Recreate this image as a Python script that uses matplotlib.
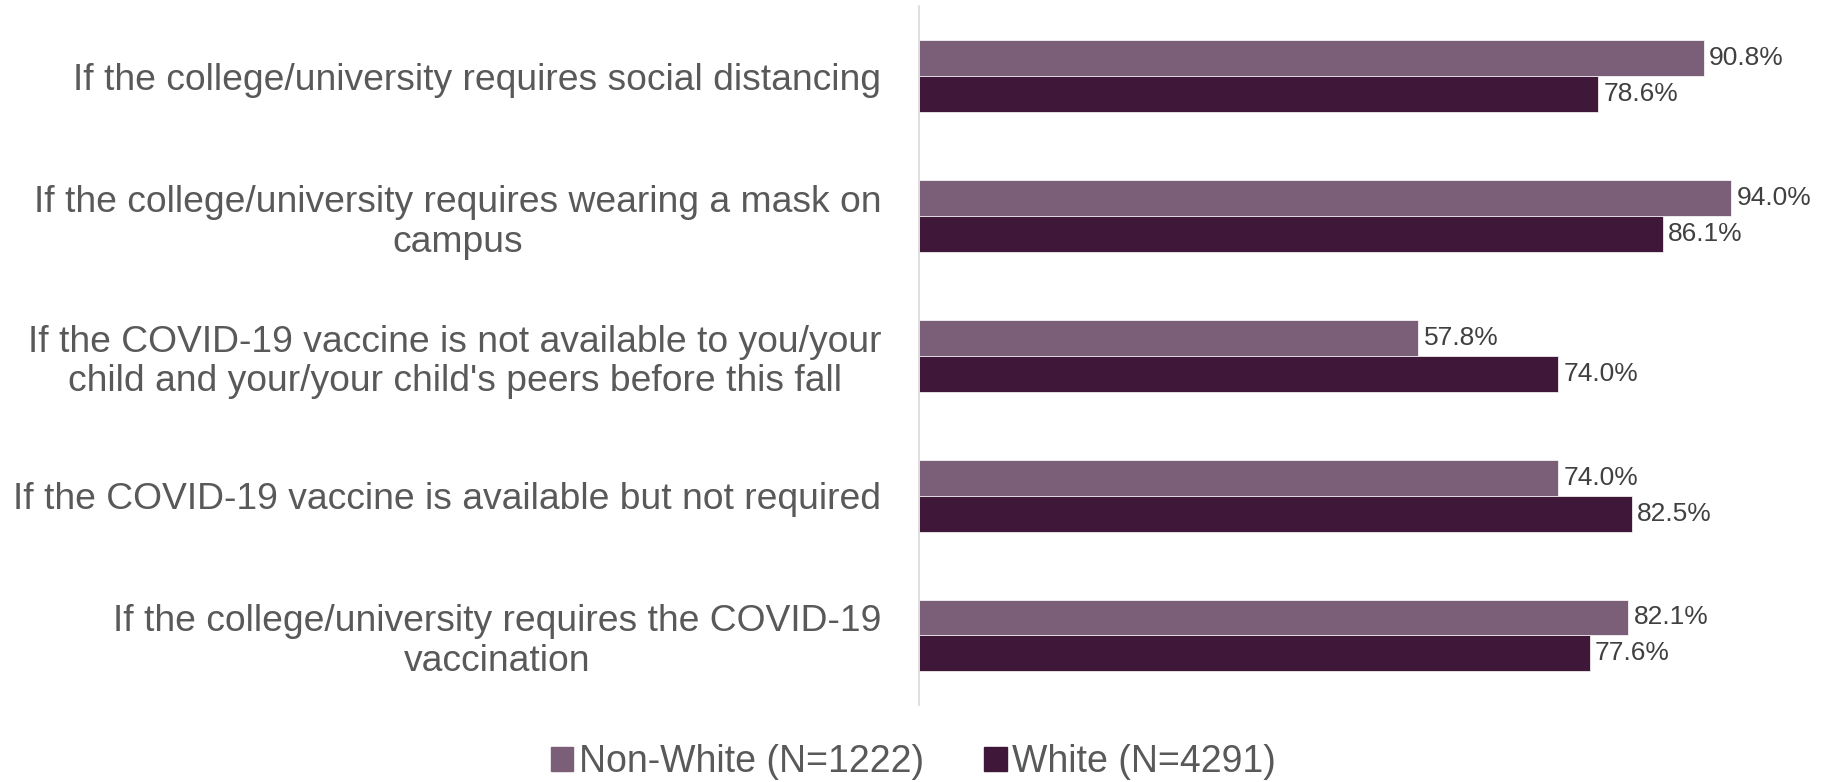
import matplotlib
matplotlib.use("Agg")
import matplotlib.pyplot as plt
from matplotlib.patches import Patch

CATEGORIES = [
    "If the college/university requires social distancing",
    "If the college/university requires wearing a mask on\ncampus",
    "If the COVID-19 vaccine is not available to you/your\nchild and your/your child's peers before this fall",
    "If the COVID-19 vaccine is available but not required",
    "If the college/university requires the COVID-19\nvaccination",
]
NON_WHITE = [90.8, 94.0, 57.8, 74.0, 82.1]
WHITE = [78.6, 86.1, 74.0, 82.5, 77.6]
SERIES_LABELS = ["Non-White (N=1222)", "White (N=4291)"]

COLORS = ["#7B5F78", "#3F1839"]
TEXT = "#595959"

plt.rcParams["font.family"] = ["Liberation Sans", "DejaVu Sans"]

fig = plt.figure(figsize=(18.27, 7.82), dpi=100)
ax = fig.add_axes([0.503, 0.098, 0.473, 0.894])

h = 0.257
ys = list(range(len(CATEGORIES)))
for vals, color, off in [(NON_WHITE, COLORS[0], -h / 2), (WHITE, COLORS[1], h / 2)]:
    pos = [y + off for y in ys]
    ax.barh(pos, vals, height=h, color=color, edgecolor="white", linewidth=0.5)
    for p, v in zip(pos, vals):
        ax.text(v + 0.6, p, f"{v:.1f}%", va="center", ha="left", fontsize=19, color="#404040")

ax.set_xlim(0, 100)
ax.set_ylim(len(CATEGORIES) - 0.5, -0.5)
ax.set_yticks(ys)
ax.set_yticklabels(CATEGORIES, fontsize=26.8, color=TEXT, multialignment="center",
                   linespacing=1.17)
ax.tick_params(axis="y", length=0, pad=27)
ax.set_xticks([])
for s in ["top", "right", "bottom"]:
    ax.spines[s].set_visible(False)
ax.spines["left"].set_color("#D9D9D9")
ax.spines["left"].set_linewidth(1.2)

handles = [Patch(color=c) for c in COLORS]
fig.legend(handles, SERIES_LABELS, loc="center", bbox_to_anchor=(0.5, 0.025), ncol=2,
           frameon=False, fontsize=27, labelcolor=TEXT, handlelength=0.6, handleheight=0.6,
           handletextpad=0.15, columnspacing=1.6)

fig.savefig("out.png", dpi=100)
